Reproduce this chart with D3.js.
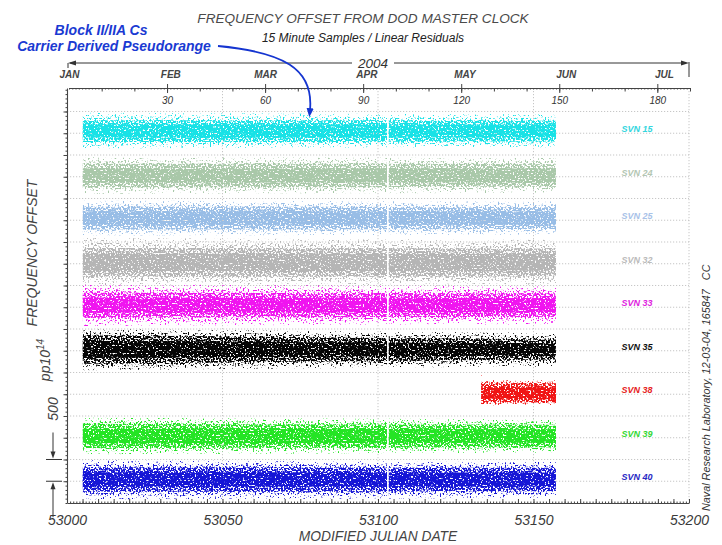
<!DOCTYPE html>
<html><head><meta charset="utf-8">
<script src="https://cdn.jsdelivr.net/npm/d3@7"></script>
<style>
body{margin:0;background:#fff}
svg{display:block}
text{font-family:"Liberation Sans",Arial,sans-serif;font-style:italic}
</style>
</head><body>
<svg id="c" width="722" height="545"></svg>
<script>
// ---------------- data ----------------
const series = ["SVN 15","SVN 24","SVN 25","SVN 32","SVN 33","SVN 35","SVN 38","SVN 39","SVN 40"];
const centers = [8550,7530,6550,5530,4550,3530,2530,1540,540];           // pp10^14 offsets (stacked)
const colors = ["#18e2e6","#a9c8a9","#98bde6","#b5b5b5","#f014f0","#050505","#f01414","#24e424","#1616d6"];
const labelColors = ["#33d6de","#b3c6b3","#a8c2e8","#bbbbbb","#e01ee0","#111111","#e62222","#35d835","#2828c4"];
const envMJD = [
  [53005.1,53080,53157.2],[53005.1,53080,53157.2],[53005.1,53080,53157.2],
  [53005.1,53080,53157.2],[53005.1,53080,53157.2],[53005.1,53080,53157.2],
  [53133.2,53133.9,53140,53157.2],
  [53005.1,53080,53157.2],[53005.1,53080,53157.2]];
const coreHW = [[250,250,240],[270,270,260],[260,260,250],[330,330,320],[290,280,270],[330,280,230],[220,220,220,220],[280,270,260],[280,280,270]];
const outerUp = [[420,400,380],[420,410,400],[400,390,380],[560,540,520],[470,450,430],[470,420,380],[440,300,290,290],[420,400,380],[440,420,400]];
const outerDn = [[400,380,370],[420,410,400],[400,390,380],[560,540,520],[480,460,440],[480,430,390],[300,290,280,280],[420,400,380],[460,440,420]];
const gapMJD = [53102.9,53103.5];

const mjdTicks = [53000,53050,53100,53150,53200];
const dayTicks = [30,60,90,120,150,180];
const monthDays = [0,31,60,91,121,152,182];
const monthNames = ["JAN","FEB","MAR","APR","MAY","JUN","JUL"];
const gridValues = d3.range(500,9001,500);

// ---------------- scales ----------------
const svg = d3.select("#c");
const x = d3.scaleLinear().domain([53000,53200]).range([67,689]);
const xDay = d3.scaleLinear().domain([0,190]).range([69,690]);
const y = d3.scaleLinear().domain([0,9540]).range([503,88]);

// ---------------- filters (grain texture) ----------------
const defs = svg.append("defs");
const layers = [
  {thr:0.62, f:(c,o)=>o},
  {thr:0.54, f:(c,o)=>c+(o-c)*0.5},
  {thr:0.425, f:(c,o)=>c},
  {thr:0.32,  f:(c,o)=>c*0.6}
];
layers.forEach((L,i)=>{
  const flt = defs.append("filter").attr("id","g"+i)
    .attr("filterUnits","userSpaceOnUse").attr("x",0).attr("y",0).attr("width",722).attr("height",545)
    .attr("color-interpolation-filters","sRGB");
  flt.append("feTurbulence").attr("type","fractalNoise").attr("baseFrequency",0.6)
    .attr("numOctaves",1).attr("seed",7).attr("result","n");
  const K = 12;
  flt.append("feColorMatrix").attr("in","n").attr("type","matrix")
    .attr("values",`0 0 0 0 0  0 0 0 0 0  0 0 0 0 0  ${K} 0 0 0 ${-K*L.thr}`).attr("result","m");
  flt.append("feComposite").attr("in","SourceGraphic").attr("in2","m").attr("operator","in");
});
defs.append("marker").attr("id","ah").attr("viewBox","0 0 10 10").attr("refX",2).attr("refY",5)
  .attr("markerWidth",5).attr("markerHeight",5).attr("orient","auto")
  .append("path").attr("d","M0,1 L10,5 L0,9 Z").attr("fill","#1535d0");

// ---------------- grid ----------------
const grid = svg.append("g").attr("stroke","#b8b8b8").attr("stroke-width",0.8).attr("stroke-dasharray","1.2,1.8");
grid.selectAll("line.h").data(gridValues).join("line").attr("class","h")
  .attr("x1",x(53000)).attr("x2",x(53200)).attr("y1",d=>y(d)).attr("y2",d=>y(d));
grid.selectAll("line.v").data(mjdTicks.slice(1)).join("line").attr("class","v")
  .attr("x1",d=>x(d)).attr("x2",d=>x(d)).attr("y1",y(9540)).attr("y2",y(0));

// ---------------- bands ----------------
function bandPoints(i, L){
  const mjd = envMJD[i];
  const sc = d3.scaleLinear().domain(mjd).range(coreHW[i]);
  const su = d3.scaleLinear().domain(mjd).range(outerUp[i]);
  const sd = d3.scaleLinear().domain(mjd).range(outerDn[i]);
  let xs = mjd.slice();
  if (gapMJD[0] > mjd[0] && gapMJD[1] < mjd[mjd.length-1]) xs.push(gapMJD[0], gapMJD[1], (gapMJD[0]+gapMJD[1])/2);
  xs.sort((a,b)=>a-b);
  return xs.map(m=>({
    m,
    def: !(m>gapMJD[0] && m<gapMJD[1]),
    up: centers[i] + L.f(sc(m), su(m)),
    dn: centers[i] - L.f(sc(m), sd(m))
  }));
}
const area = d3.area().defined(d=>d.def).x(d=>x(d.m)).y0(d=>y(d.dn)).y1(d=>y(d.up));
layers.forEach((L,li)=>{
  const g = svg.append("g").attr("filter",`url(#g${li})`);
  series.forEach((s,i)=>{
    g.append("path").attr("d",area(bandPoints(i,L))).attr("fill",colors[i]);
  });
});

// ---------------- axes ----------------
function styleAxis(g){
  g.select(".domain").attr("stroke","#444").attr("stroke-width",1.1);
  g.selectAll(".tick line").attr("stroke","#444");
  g.selectAll("text").attr("fill","#333").style("font-style","italic")
    .attr("font-family","'Liberation Sans',Arial,sans-serif");
}
// left axis
svg.append("g").attr("transform","translate(67,0)")
  .call(d3.axisLeft(y).tickValues(d3.range(0,9541,100)).tickSize(1.5).tickSizeOuter(0).tickFormat(""))
  .call(styleAxis);
svg.append("g").attr("transform","translate(67,0)")
  .call(d3.axisLeft(y).tickValues(gridValues).tickSize(3.5).tickSizeOuter(0).tickFormat(""))
  .call(styleAxis).select(".domain").remove();
// bottom axis
svg.append("g").attr("transform",`translate(0,${y(0)})`)
  .call(d3.axisTop(x).tickValues(d3.range(53000,53201,1)).tickSize(1.5).tickSizeOuter(0).tickFormat(""))
  .call(styleAxis);
svg.append("g").attr("transform",`translate(0,${y(0)})`)
  .call(d3.axisTop(x).tickValues(d3.range(53000,53201,5)).tickSize(4).tickSizeOuter(0).tickFormat(""))
  .call(styleAxis).select(".domain").remove();
svg.append("g").attr("transform",`translate(0,${y(0)})`)
  .call(d3.axisBottom(x).tickValues(mjdTicks).tickSize(0).tickPadding(12).tickFormat(d3.format("d")))
  .call(styleAxis).call(g=>{g.select(".domain").remove(); g.selectAll("text").attr("font-size",14).attr("fill","#3a3a3a");});
// top axis (day of year)
const topY = y(9540);
svg.append("g").attr("transform",`translate(0,${topY})`)
  .call(d3.axisBottom(xDay).tickValues(d3.range(0,191,1)).tickSize(1.5).tickSizeOuter(0).tickFormat(""))
  .call(styleAxis);
svg.append("g").attr("transform",`translate(0,${topY})`)
  .call(d3.axisBottom(xDay).tickValues(d3.range(10,191,10)).tickSize(3.5).tickSizeOuter(0).tickFormat(""))
  .call(styleAxis).select(".domain").remove();
svg.append("g").attr("transform",`translate(0,${topY})`)
  .call(d3.axisBottom(xDay).tickValues(dayTicks).tickSize(5).tickPadding(4))
  .call(styleAxis).call(g=>{g.select(".domain").remove(); g.selectAll("text").attr("font-size",10);});
svg.append("g").attr("transform",`translate(0,${topY})`)
  .call(d3.axisTop(xDay).tickValues(dayTicks).tickSize(4).tickFormat(""))
  .call(styleAxis).select(".domain").remove();
svg.append("g").attr("transform",`translate(0,${topY})`)
  .call(d3.axisTop(xDay).tickValues(monthDays).tickSize(0).tickPadding(10).tickFormat((d,i)=>monthNames[i]))
  .call(styleAxis).call(g=>{g.select(".domain").remove(); g.selectAll("text").attr("font-size",10).attr("font-weight","bold").attr("fill","#444");});

// 2004 arrow line
const yr = svg.append("g").attr("stroke","#333").attr("fill","#333");
yr.append("line").attr("x1",x(53000)+3).attr("x2",352).attr("y1",63).attr("y2",63);
yr.append("line").attr("x1",394).attr("x2",x(53200)-3).attr("y1",63).attr("y2",63);
yr.append("path").attr("d",`M${x(53000)+1},63 L${x(53000)+9},60.5 L${x(53000)+9},65.5 Z`).attr("stroke","none");
yr.append("path").attr("d",`M${x(53200)},63 L${x(53200)-8},60.5 L${x(53200)-8},65.5 Z`).attr("stroke","none");
yr.append("line").attr("x1",x(53200)).attr("x2",x(53200)).attr("y1",62).attr("y2",77);
yr.append("line").attr("x1",x(53000)+1).attr("x2",x(53000)+1).attr("y1",63).attr("y2",68);
svg.append("text").attr("x",373).attr("y",67.5).attr("text-anchor","middle").attr("font-size",13.5).attr("fill","#333").text("2004");

// ---------------- labels ----------------
svg.append("text").attr("x",363).attr("y",23).attr("text-anchor","middle").attr("font-size",13.6)
  .attr("fill","#4a4a4a").text("FREQUENCY OFFSET FROM DOD MASTER CLOCK");
svg.append("text").attr("x",363).attr("y",42).attr("text-anchor","middle").attr("font-size",12)
  .attr("fill","#222").text("15 Minute Samples / Linear Residuals");
svg.append("text").attr("x",101).attr("y",35).attr("text-anchor","middle").attr("font-size",14)
  .attr("font-weight","bold").attr("fill","#1a3ad2").text("Block II/IIA Cs");
svg.append("text").attr("x",114).attr("y",51).attr("text-anchor","middle").attr("font-size",14)
  .attr("font-weight","bold").attr("fill","#1a3ad2").text("Carrier Derived Pseudorange");
svg.append("path").attr("d","M218,46 C282,52 314,68 310,110").attr("fill","none")
  .attr("stroke","#1535d0").attr("stroke-width",1.8).attr("marker-end","url(#ah)");

svg.append("text").attr("x",x(53100)).attr("y",541).attr("text-anchor","middle").attr("font-size",13.8)
  .attr("fill","#444").text("MODIFIED JULIAN DATE");

svg.append("text").attr("transform","translate(37,253) rotate(-90)").attr("text-anchor","middle")
  .attr("font-size",14).attr("fill","#444").text("FREQUENCY OFFSET");
const pp = svg.append("text").attr("transform","translate(50,360) rotate(-90)").attr("text-anchor","middle")
  .attr("font-size",14).attr("fill","#444");
pp.append("tspan").text("pp10");
pp.append("tspan").attr("dy",-6).attr("font-size",10).text("14");
svg.append("text").attr("transform","translate(58,409) rotate(-90)").attr("text-anchor","middle")
  .attr("font-size",14).attr("fill","#444").text("500");

// 500 scale marker
const mk = svg.append("g").attr("stroke","#333").attr("fill","#333");
mk.append("line").attr("x1",46).attr("x2",62).attr("y1",y(1000)).attr("y2",y(1000));
mk.append("line").attr("x1",46).attr("x2",62).attr("y1",y(500)).attr("y2",y(500));
mk.append("line").attr("x1",53).attr("x2",53).attr("y1",y(1000)-27).attr("y2",y(1000)-5);
mk.append("path").attr("d",`M53,${y(1000)-1} L50.5,${y(1000)-8} L55.5,${y(1000)-8} Z`).attr("stroke","none");
mk.append("line").attr("x1",53).attr("x2",53).attr("y1",y(500)+36).attr("y2",y(500)+5);
mk.append("path").attr("d",`M53,${y(500)+1} L50.5,${y(500)+8} L55.5,${y(500)+8} Z`).attr("stroke","none");

// SVN labels
svg.append("g").selectAll("text").data(series).join("text")
  .attr("x",637).attr("y",(d,i)=>y(centers[i])+0.5).attr("text-anchor","middle")
  .attr("font-size",9).attr("font-weight","bold").attr("fill",(d,i)=>labelColors[i]).text(d=>d);

svg.append("text").attr("transform","translate(710,511) rotate(-90)").attr("font-size",10.8)
  .attr("fill","#333").style("white-space","pre").text("Naval Research Laboratory, 12-03-04, 165847   CC");
</script>
</body></html>
